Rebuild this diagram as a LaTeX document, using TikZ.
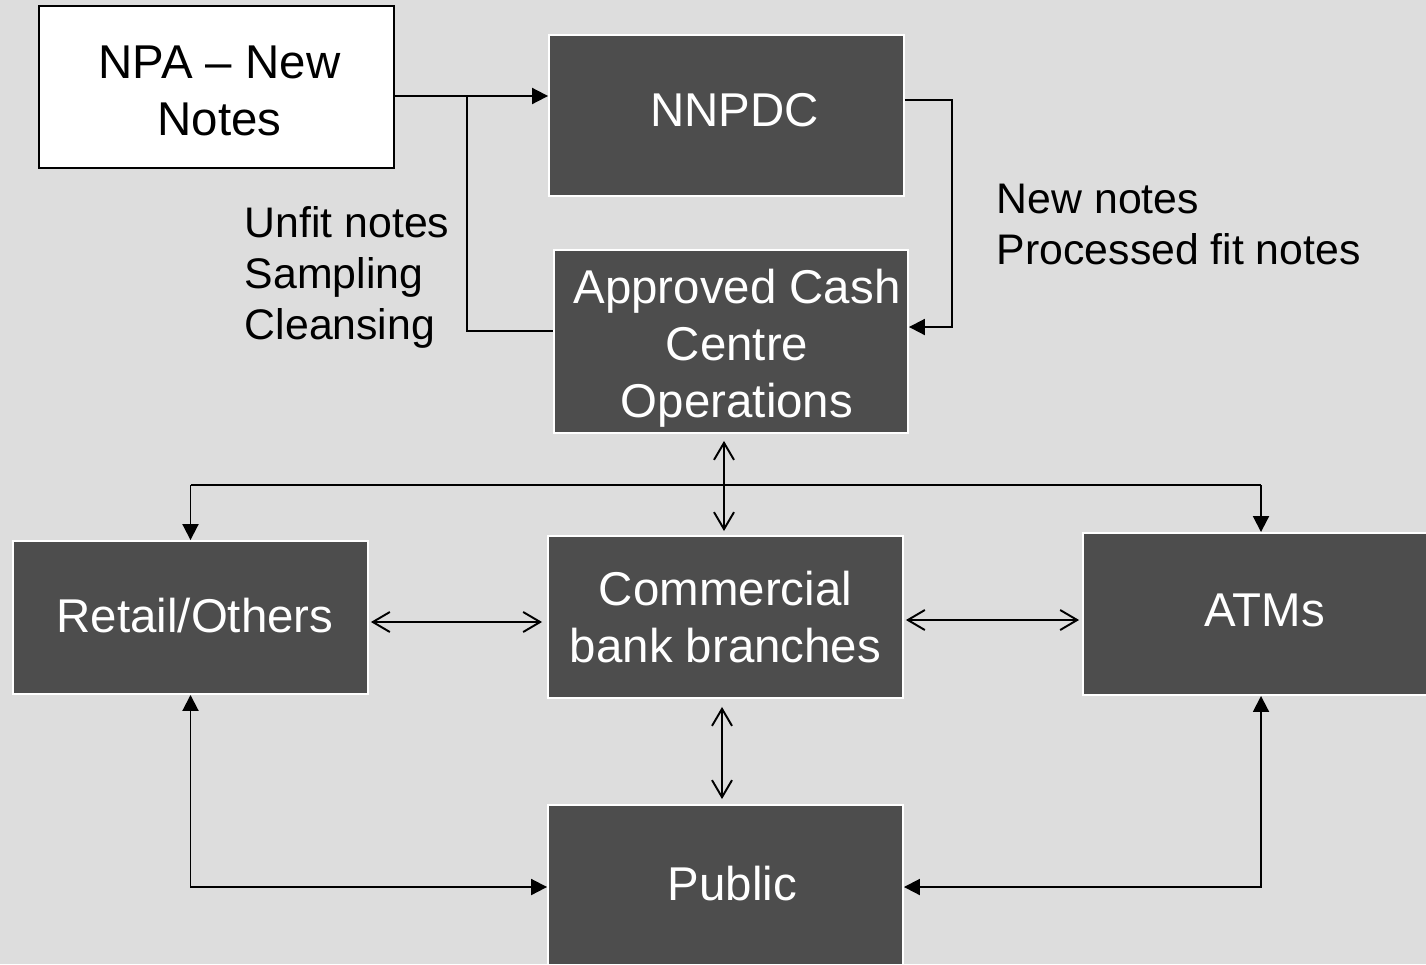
\documentclass[tikz,border=0pt]{standalone}
\usepackage{fontspec}
\setmainfont{Liberation Sans}
\usetikzlibrary{arrows.meta,calc}
\definecolor{bg}{HTML}{DDDDDD}
\definecolor{boxgray}{HTML}{4D4D4D}
\newcommand{\hs}[1]{\hspace*{#1}}
\tikzset{
  boxfont/.style={font=\fontsize{27}{32.4}\selectfont},
  darkbox/.style={boxfont, draw=white, line width=1.1pt, fill=boxgray, text=white, align=center, inner sep=0pt},
  lightbox/.style={boxfont, draw=black, line width=1.1pt, fill=white, text=black, align=center, inner sep=0pt},
  conn/.style={line width=1.1pt, draw=black},
  fa/.style={conn, -{Triangle[length=0.32cm,width=0.32cm]}},
  fab/.style={conn, {Triangle[length=0.32cm,width=0.32cm]}-{Triangle[length=0.32cm,width=0.32cm]}},
  ob/.style={conn, {Straight Barb[length=0.34cm,width=0.4cm]}-{Straight Barb[length=0.34cm,width=0.4cm]}},
  lbl/.style={font=\fontsize{24.35}{29}\selectfont, align=left, inner sep=0pt, anchor=north west, text=black}
}
\begin{document}
\begin{tikzpicture}[x=0.02cm, y=-0.02cm]
\useasboundingbox (0,0) rectangle (1426,964);
\clip (0,0) rectangle (1426,964);
\fill[bg] (0,0) rectangle (1426,964);

% boxes
\node[lightbox, minimum width=7.1cm, minimum height=3.24cm] (npa) at (216.5,87)
  {\hs{0.12cm}\rule{0pt}{0.81cm}NPA – New\\\hs{0.12cm}Notes};
\node[darkbox, minimum width=7.1cm, minimum height=3.22cm, text depth=0.24cm] (nnpdc) at (726.5,115.5)
  {\hs{0.32cm}NNPDC};
\node[darkbox, minimum width=7.08cm, minimum height=3.66cm] (acc) at (731,341.5)
  {\hs{0.24cm}\rule{0pt}{0.97cm}Approved Cash\\\hs{0.24cm}Centre\\\hs{0.24cm}Operations};
\node[darkbox, minimum width=7.1cm, minimum height=3.06cm, text depth=0.1cm] (retail) at (190.5,617.5)
  {\hs{0.18cm}Retail/Others};
\node[darkbox, minimum width=7.1cm, minimum height=3.24cm] (cbb) at (725.5,617)
  {Commercial\\bank branches};
\node[darkbox, minimum width=7.28cm, minimum height=3.24cm, text depth=0.16cm] (atm) at (1265,614)
  {ATMs};
\node[darkbox, minimum width=7.1cm, minimum height=3.2cm, text depth=0.07cm] (pub) at (725.5,885)
  {\hs{0.28cm}Public};

% labels
\node[lbl] (lleft) at (244.5,206) {Unfit notes\\Sampling\\Cleansing};
\node[lbl] (lright) at (996.5,184) {New notes\\Processed fit notes};

% NPA -> NNPDC and return from ACC
\coordinate (j1) at (467,96);
\coordinate (j2) at (467,331);
\draw[fa] (npa.east |- j1) -- (nnpdc.west |- j1);
\draw[conn] (j1) -- (j2) -- (acc.west |- j2);

% NNPDC -> ACC
\coordinate (r1) at (952,100);
\coordinate (r2) at (952,327);
\draw[fa] (nnpdc.east |- r1) -- (r1) -- (r2) -- (acc.east |- r2);

% ACC <-> CBB
\coordinate (v1) at (724,485);
\draw[ob, shorten <=0.14cm, shorten >=0.08cm] (acc.south -| v1) -- (cbb.north -| v1);

% distribution line
\coordinate (a1) at (1261,485);
\draw[conn] (retail.north |- v1) -- (a1);
\draw[fa] (retail.north |- v1) -- (retail.north);
\draw[fa] (a1) -- (atm.north -| a1);

% horizontal two-way
\coordinate (m1) at (0,622);
\coordinate (m2) at (0,620);
\draw[ob, shorten <=0.04cm, shorten >=0.1cm] (retail.east |- m1) -- (cbb.west |- m1);
\draw[ob, shorten <=0.04cm, shorten >=0.06cm] (cbb.east |- m2) -- (atm.west |- m2);

% CBB <-> Public
\coordinate (v2) at (722,0);
\draw[ob, shorten <=0.16cm, shorten >=0.1cm] (cbb.south -| v2) -- (pub.north -| v2);

% Retail <-> Public
\coordinate (b1) at (190.5,887);
\draw[fab] (retail.south) -- (b1) -- (pub.west |- b1);

% ATMs <-> Public
\coordinate (b2) at (1261,887);
\draw[fab] (atm.south -| b2) -- (b2) -- (pub.east |- b2);
\end{tikzpicture}
\end{document}
